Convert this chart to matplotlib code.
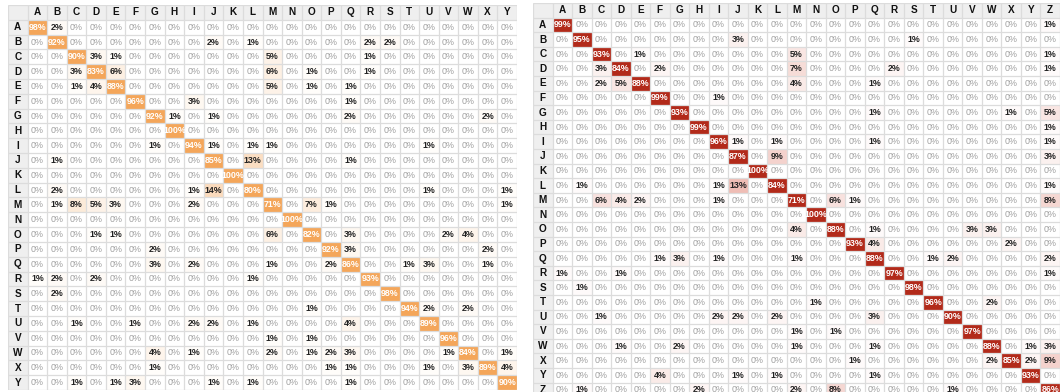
import numpy as np
import matplotlib
matplotlib.use("Agg")
import matplotlib.pyplot as plt
from matplotlib.colors import LinearSegmentedColormap, Normalize
from matplotlib.patches import Rectangle

plt.rcParams["font.family"] = ["Liberation Sans", "DejaVu Sans"]

LEFT_LABELS = list("ABCDEFGHIJKLMNOPQRSTUVWXY")
RIGHT_LABELS = list("ABCDEFGHIJKLMNOPQRSTUVWXYZ")

# nonzero percentages for each true-class row (A first); any cell not listed is 0%
LEFT_ROWS = [
    {"A": 98, "B": 2},
    {"B": 92, "J": 2, "L": 1, "R": 2, "S": 2},
    {"C": 90, "D": 3, "E": 1, "M": 5, "R": 1},
    {"C": 3, "D": 83, "E": 6, "M": 6, "O": 1, "R": 1},
    {"C": 1, "D": 4, "E": 88, "M": 5, "O": 1, "Q": 1},
    {"F": 96, "I": 3, "Q": 1},
    {"G": 92, "H": 1, "J": 1, "Q": 2, "X": 2},
    {"H": 100},
    {"G": 1, "I": 94, "J": 1, "L": 1, "M": 1, "U": 1},
    {"B": 1, "J": 85, "L": 13, "Q": 1},
    {"K": 100},
    {"B": 2, "I": 1, "J": 14, "L": 80, "U": 1, "Y": 1},
    {"B": 1, "C": 8, "D": 5, "E": 3, "I": 2, "M": 71, "O": 7, "P": 1, "Y": 1},
    {"N": 100},
    {"D": 1, "E": 1, "M": 6, "O": 82, "Q": 3, "V": 2, "W": 4},
    {"G": 2, "P": 92, "Q": 3, "X": 2},
    {"G": 3, "I": 2, "M": 1, "P": 2, "Q": 86, "T": 1, "U": 3, "X": 1},
    {"A": 1, "B": 2, "D": 2, "L": 1, "R": 93},
    {"B": 2, "S": 98},
    {"O": 1, "T": 94, "U": 2, "W": 2},
    {"C": 1, "F": 1, "I": 2, "J": 2, "L": 1, "Q": 4, "U": 89},
    {"M": 1, "O": 1, "V": 96},
    {"G": 4, "I": 1, "M": 2, "O": 1, "P": 2, "Q": 3, "V": 1, "W": 84, "Y": 1},
    {"G": 1, "P": 1, "Q": 1, "U": 1, "W": 3, "X": 89, "Y": 4},
    {"C": 1, "E": 1, "F": 3, "J": 1, "L": 1, "Q": 1, "Y": 90},
]

RIGHT_ROWS = [
    {"A": 99, "Z": 1},
    {"B": 95, "J": 3, "S": 1},
    {"C": 93, "E": 1, "M": 5, "Z": 1},
    {"C": 3, "D": 84, "F": 2, "M": 7, "R": 2, "Z": 1},
    {"C": 2, "D": 5, "E": 88, "M": 4, "Q": 1},
    {"F": 99, "I": 1},
    {"G": 93, "Q": 1, "X": 1, "Z": 5},
    {"H": 99, "Z": 1},
    {"I": 96, "J": 1, "L": 1, "Q": 1, "Z": 1},
    {"J": 87, "L": 9, "Z": 3},
    {"K": 100},
    {"B": 1, "I": 1, "J": 13, "L": 84, "Z": 1},
    {"C": 6, "D": 4, "E": 2, "I": 1, "M": 71, "O": 6, "P": 1, "Z": 8},
    {"N": 100},
    {"M": 4, "O": 88, "Q": 1, "V": 3, "W": 3},
    {"P": 93, "Q": 4, "X": 2},
    {"F": 1, "G": 3, "I": 1, "M": 1, "Q": 88, "T": 1, "U": 2, "Z": 2},
    {"A": 1, "D": 1, "R": 97, "Z": 1},
    {"B": 1, "S": 98},
    {"N": 1, "T": 96, "W": 2},
    {"C": 1, "I": 2, "J": 2, "L": 2, "Q": 3, "U": 90},
    {"M": 1, "O": 1, "V": 97},
    {"D": 1, "G": 2, "M": 1, "Q": 1, "W": 88, "Y": 1, "Z": 3},
    {"P": 1, "W": 2, "X": 85, "Y": 2, "Z": 9},
    {"F": 4, "J": 1, "L": 1, "Q": 1, "Y": 93},
    {"B": 1, "H": 2, "M": 2, "O": 8, "U": 1, "Z": 86},
]

HEAD_BG = "#efefef"
GRID = "#dcdcdc"

orange = LinearSegmentedColormap.from_list("orange", ["#ffffff", "#f4a65a"])
reds = LinearSegmentedColormap.from_list("reds", ["#ffffff", "#e9a79c", "#b22a1a"])


def to_matrix(rows, labels):
    idx = {c: i for i, c in enumerate(labels)}
    m = np.zeros((len(rows), len(labels)), dtype=int)
    for r, cells in enumerate(rows):
        for c, v in cells.items():
            m[r, idx[c]] = v
    return m


def draw(ax, mat, labels, cmap):
    n = len(labels)
    ax.set_xlim(-1.5, n - 0.5)
    ax.set_ylim(n - 0.5, -1.5)
    ax.axis("off")
    edges = np.arange(-0.5, n)
    ax.pcolormesh(edges, edges, mat, cmap=cmap, norm=Normalize(0, 35, clip=True))
    # header row and row-label column
    ax.add_patch(Rectangle((-1.5, -1.5), n + 1, 1, fc=HEAD_BG, ec="none"))
    ax.add_patch(Rectangle((-1.5, -1.5), 1, n + 1, fc=HEAD_BG, ec="none"))
    lines = np.arange(-1.5, n)
    ax.vlines(lines, -1.5, n - 0.5, color=GRID, lw=0.9)
    ax.hlines(lines, -1.5, n - 0.5, color=GRID, lw=0.9)
    for k, lab in enumerate(labels):
        ax.text(k, -1, lab, ha="center", va="center", fontsize=7.2,
                fontweight="bold", color="#111111")
        ax.text(-1, k, lab, ha="center", va="center", fontsize=7.2,
                fontweight="bold", color="#111111")
    for i in range(mat.shape[0]):
        for j in range(n):
            v = mat[i, j]
            if v == 0:
                kw = dict(color="#a0a0a0")
            elif v >= 50:
                kw = dict(color="white", fontweight="bold")
            else:
                kw = dict(color="#222222", fontweight="bold")
            ax.text(j, i, f"{v}%", ha="center", va="center", fontsize=6.4, **kw)


W, H = 1063, 392
fig = plt.figure(figsize=(W / 100, H / 100), dpi=100)

ax_l = fig.add_axes([8 / W, 2 / H, 509 / W, 385 / H])
draw(ax_l, to_matrix(LEFT_ROWS, LEFT_LABELS), LEFT_LABELS, orange)

# the right table runs slightly past the bottom edge of the canvas
ax_r = fig.add_axes([533 / W, -5.2 / H, 527 / W, 394.2 / H])
draw(ax_r, to_matrix(RIGHT_ROWS, RIGHT_LABELS), RIGHT_LABELS, reds)

fig.savefig("out.png", dpi=100, facecolor="white")
